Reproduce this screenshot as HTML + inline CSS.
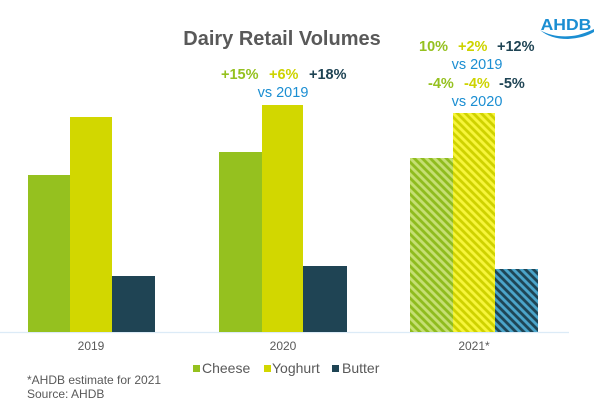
<!DOCTYPE html>
<html>
<head>
<meta charset="utf-8">
<style>
html,body{margin:0;padding:0;background:#fff;}
svg{display:block;}
text{font-family:"Liberation Sans",Arial,sans-serif;}
</style>
</head>
<body>
<svg width="608" height="404" viewBox="0 0 608 404" xmlns="http://www.w3.org/2000/svg">
  <defs>
    <pattern id="hc" patternUnits="userSpaceOnUse" width="8" height="8">
      <rect width="8" height="8" fill="#c5df72"/>
      <path d="M-2,-2 L10,10 M-2,6 L2,10 M6,-2 L10,2" stroke="#8fbc1f" stroke-width="2.8"/>
    </pattern>
    <pattern id="hy" patternUnits="userSpaceOnUse" width="8" height="8">
      <rect width="8" height="8" fill="#f7f53a"/>
      <path d="M-2,-2 L10,10 M-2,6 L2,10 M6,-2 L10,2" stroke="#cfd200" stroke-width="2.8"/>
    </pattern>
    <pattern id="hb" patternUnits="userSpaceOnUse" width="8" height="8">
      <rect width="8" height="8" fill="#4ba4c9"/>
      <path d="M-2,-2 L10,10 M-2,6 L2,10 M6,-2 L10,2" stroke="#1f4656" stroke-width="2.8"/>
    </pattern>
  </defs>

  <!-- title -->
  <text x="282" y="45" text-anchor="middle" font-size="20" font-weight="bold" fill="#595959">Dairy Retail Volumes</text>

  <!-- logo -->
  <text x="566" y="30" text-anchor="middle" font-size="16" font-weight="bold" fill="#1b8ed2" transform="translate(566,0) scale(1.1,1) translate(-566,0)">AHDB</text>
  <path d="M540,30 C550,36 564,38 578,35 C585,33 590,31 594,29 L594,32 C589,35 582,38 568,39 C556,39 547,36 540,30 Z" fill="#1b8ed2"/>

  <!-- axis -->
  <line x1="0" y1="332.5" x2="569" y2="332.5" stroke="#dcebf7" stroke-width="1.2"/>

  <!-- 2019 -->
  <rect x="28" y="175" width="42" height="157" fill="#95c11f"/>
  <rect x="70" y="117" width="42" height="215" fill="#d2d700"/>
  <rect x="112" y="276" width="43" height="56" fill="#1f4454"/>

  <!-- 2020 -->
  <rect x="219" y="152" width="43" height="180" fill="#95c11f"/>
  <rect x="262" y="105" width="41" height="227" fill="#d2d700"/>
  <rect x="303" y="266" width="44" height="66" fill="#1f4454"/>

  <!-- 2021 -->
  <rect x="410" y="158" width="43" height="174" fill="url(#hc)"/>
  <rect x="453" y="113" width="42" height="219" fill="url(#hy)"/>
  <rect x="495" y="269" width="43" height="63" fill="url(#hb)"/>

  <!-- 2020 annotations -->
  <text x="221" y="79" font-size="14.5" font-weight="bold" fill="#95c11f">+15%</text>
  <text x="269" y="79" font-size="14.5" font-weight="bold" fill="#cdd300">+6%</text>
  <text x="309" y="79" font-size="14.5" font-weight="bold" fill="#1f4454">+18%</text>
  <text x="283" y="97" text-anchor="middle" font-size="14.5" fill="#1b8ed2">vs 2019</text>

  <!-- 2021 annotations -->
  <text x="419" y="51" font-size="14.5" font-weight="bold" fill="#95c11f">10%</text>
  <text x="458" y="51" font-size="14.5" font-weight="bold" fill="#cdd300">+2%</text>
  <text x="497" y="51" font-size="14.5" font-weight="bold" fill="#1f4454">+12%</text>
  <text x="477" y="69" text-anchor="middle" font-size="14.5" fill="#1b8ed2">vs 2019</text>
  <text x="428" y="88" font-size="14.5" font-weight="bold" fill="#95c11f">-4%</text>
  <text x="464" y="88" font-size="14.5" font-weight="bold" fill="#cdd300">-4%</text>
  <text x="499" y="88" font-size="14.5" font-weight="bold" fill="#1f4454">-5%</text>
  <text x="477" y="106" text-anchor="middle" font-size="14.5" fill="#1b8ed2">vs 2020</text>

  <!-- category labels -->
  <text x="91" y="350" text-anchor="middle" font-size="12" fill="#595959">2019</text>
  <text x="283" y="350" text-anchor="middle" font-size="12" fill="#595959">2020</text>
  <text x="474" y="350" text-anchor="middle" font-size="12" fill="#595959">2021*</text>

  <!-- legend -->
  <rect x="193" y="365" width="7" height="7" fill="#95c11f"/>
  <text x="202" y="373" font-size="14" fill="#595959">Cheese</text>
  <rect x="264" y="365" width="7" height="7" fill="#d2d700"/>
  <text x="272" y="373" font-size="14" fill="#595959">Yoghurt</text>
  <rect x="332" y="365" width="7" height="7" fill="#1f4454"/>
  <text x="342" y="373" font-size="14" fill="#595959">Butter</text>

  <!-- footnote -->
  <text x="27" y="384" font-size="12" fill="#595959">*AHDB estimate for 2021</text>
  <text x="27" y="398" font-size="12" fill="#595959">Source: AHDB</text>
</svg>
</body>
</html>
